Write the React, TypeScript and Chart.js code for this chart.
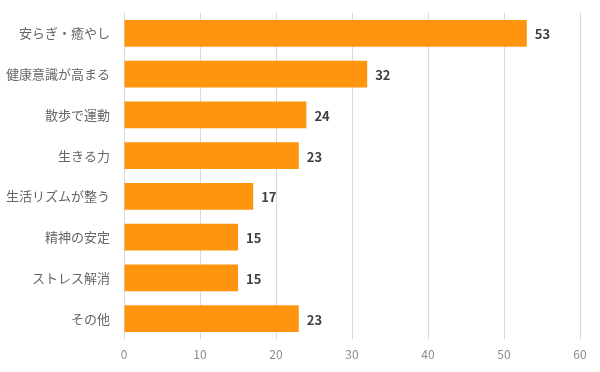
import React, { useEffect, useRef } from "react";
import { Chart, registerables } from "chart.js";

Chart.register(...registerables);

const categories = [
  "安らぎ・癒やし",
  "健康意識が高まる",
  "散歩で運動",
  "生きる力",
  "生活リズムが整う",
  "精神の安定",
  "ストレス解消",
  "その他",
];
const values = [53, 32, 24, 23, 17, 15, 15, 23];
const xMin = 0;
const xMax = 60;
const xStep = 10;

const FONT = "'Noto Sans CJK JP', 'Noto Sans', sans-serif";

const valueLabels = {
  id: "valueLabels",
  afterDatasetsDraw(chart: any) {
    const ctx = chart.ctx;
    const meta = chart.getDatasetMeta(0);
    ctx.save();
    ctx.font = `bold 13px ${FONT}`;
    ctx.fillStyle = "#404040";
    ctx.textAlign = "left";
    ctx.textBaseline = "middle";
    meta.data.forEach((bar: any, i: number) => {
      ctx.fillText(String(values[i]), bar.x + 8, bar.y + 1);
    });
    ctx.restore();
  },
};

export default function App() {
  const ref = useRef<HTMLCanvasElement | null>(null);
  useEffect(() => {
    if (!ref.current) return;
    const chart = new Chart(ref.current, {
      type: "bar",
      data: {
        labels: categories,
        datasets: [
          {
            data: values,
            backgroundColor: "#FF940E",
            borderWidth: 0,
            categoryPercentage: 0.66,
            barPercentage: 1,
          },
        ],
      },
      options: {
        indexAxis: "y",
        animation: false,
        responsive: false,
        maintainAspectRatio: false,
        layout: { padding: { left: 0, right: 20, top: 13, bottom: 0 } },
        plugins: { legend: { display: false }, tooltip: { enabled: false } },
        scales: {
          x: {
            min: xMin,
            max: xMax,
            ticks: {
              stepSize: xStep,
              color: "#8c8c8c",
              font: { family: FONT, size: 12 },
              padding: 8,
            },
            grid: { color: "#d9d9d9", lineWidth: 1, drawTicks: false },
            border: { display: false },
            afterFit(scale: any) {
              scale.height = 372 - 339;
            },
          },
          y: {
            ticks: {
              color: "#666666",
              font: { family: FONT, size: 13 },
              padding: 14,
            },
            grid: { display: false, drawTicks: false },
            border: { display: false },
            afterFit(scale: any) {
              scale.width = 124;
              scale.paddingTop = 0;
              scale.paddingBottom = 0;
            },
          },
        },
      },
      plugins: [valueLabels],
    });
    return () => chart.destroy();
  }, []);
  return (
    <div style={{ position: "fixed", left: 0, top: 0, width: 600, height: 372, background: "#fff" }}>
      <canvas ref={ref} width={600} height={372} style={{ width: 600, height: 372 }} />
    </div>
  );
}
